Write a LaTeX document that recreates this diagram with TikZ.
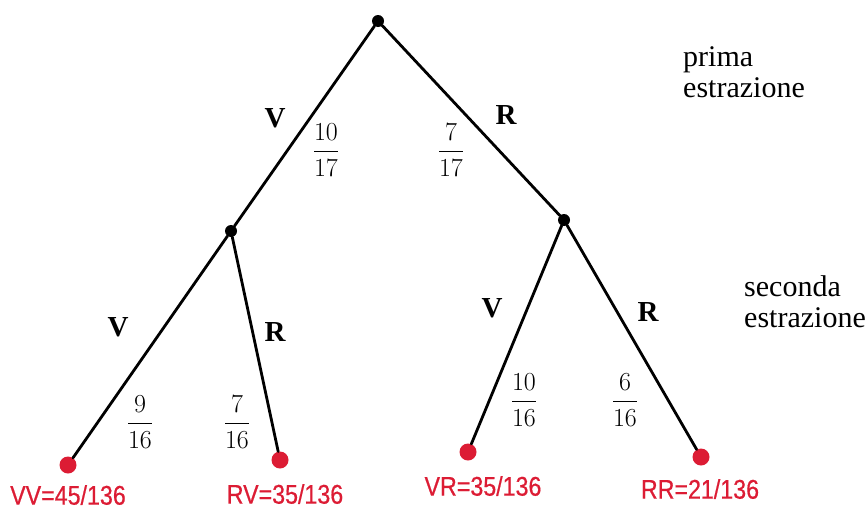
\documentclass[tikz,border=0pt]{standalone}
\usepackage{fix-cm}
\usepackage{amsmath}
\usepackage{fontspec}
\setmainfont{Liberation Serif}
\newfontfamily\leaffont[FakeStretch=0.86,FakeBold=0.6]{Liberation Sans}
\usetikzlibrary{positioning}
\definecolor{leafred}{RGB}{220,28,52}

\begin{document}
\begin{tikzpicture}[
  x=1pt, y=-1pt,
  edge/.style={line width=2.8pt, line cap=round},
  knot/.style={circle, fill=black, inner sep=0pt, minimum size=12pt},
  leaf/.style={circle, fill=leafred, inner sep=0pt, minimum size=17pt},
  leaflab/.style={text=leafred, font=\leaffont\fontsize{27}{30}\selectfont, inner sep=0pt},
  move/.style={font=\bfseries\fontsize{29}{32}\selectfont, inner sep=0pt},
  prob/.style={font=\fontsize{26}{30}\selectfont, inner sep=0pt},
  stage/.style={font=\fontsize{30}{31}\selectfont, align=left, inner sep=0pt},
]
\useasboundingbox (0,0) rectangle (866,509);

% ── nodes of the tree ───────────────────────────────────────────────────────
\node[knot] (root) at (378,21) {};
\node[knot] (v1)   at (231,231) {};
\node[knot] (r1)   at (564,220) {};

\node[leaf] (vv) at (68,465) {};
\node[leaf] (rv) at (280,460) {};
\node[leaf] (vr) at (468,452) {};
\node[leaf] (rr) at (701,457) {};

% ── branches ────────────────────────────────────────────────────────────────
\draw[edge] (root) -- (v1);
\draw[edge] (root) -- (r1);
\draw[edge] (v1) -- (vv);
\draw[edge] (v1) -- (rv);
\draw[edge] (r1) -- (vr);
\draw[edge] (r1) -- (rr);

% ── first draw: colours and probabilities ───────────────────────────────────
\node[move] (lv1) at (275,118) {V};
\node[move] (lr1) at (506,115) {R};
\node[prob] (pv1) at (326,150) {$\dfrac{10}{17}$};
\node[prob] (pr1) at (451,150) {$\dfrac{7}{17}$};

% ── second draw ─────────────────────────────────────────────────────────────
\node[move] (lvv) at (118,327) {V};
\node[move] (lrv) at (275,332) {R};
\node[move] (lvr) at (492,308) {V};
\node[move] (lrr) at (648,312) {R};
\node[prob] (pvv) at (140,422) {$\dfrac{9}{16}$};
\node[prob] (prv) at (237,422) {$\dfrac{7}{16}$};
\node[prob] (pvr) at (524,400) {$\dfrac{10}{16}$};
\node[prob] (prr) at (625,400) {$\dfrac{6}{16}$};

% ── results ─────────────────────────────────────────────────────────────────
\node[leaflab] (tvv) at (68,495) {VV=45/136};
\node[leaflab] (trv) at (285,494) {RV=35/136};
\node[leaflab] (tvr) at (483,486) {VR=35/136};
\node[leaflab] (trr) at (700,489) {RR=21/136};

% ── stage captions ──────────────────────────────────────────────────────────
\node[stage, anchor=north west] (first)  at (683,46)  {prima\\estrazione};
\node[stage, anchor=north west] (second) at (744,275) {seconda\\estrazione};
\end{tikzpicture}
\end{document}
